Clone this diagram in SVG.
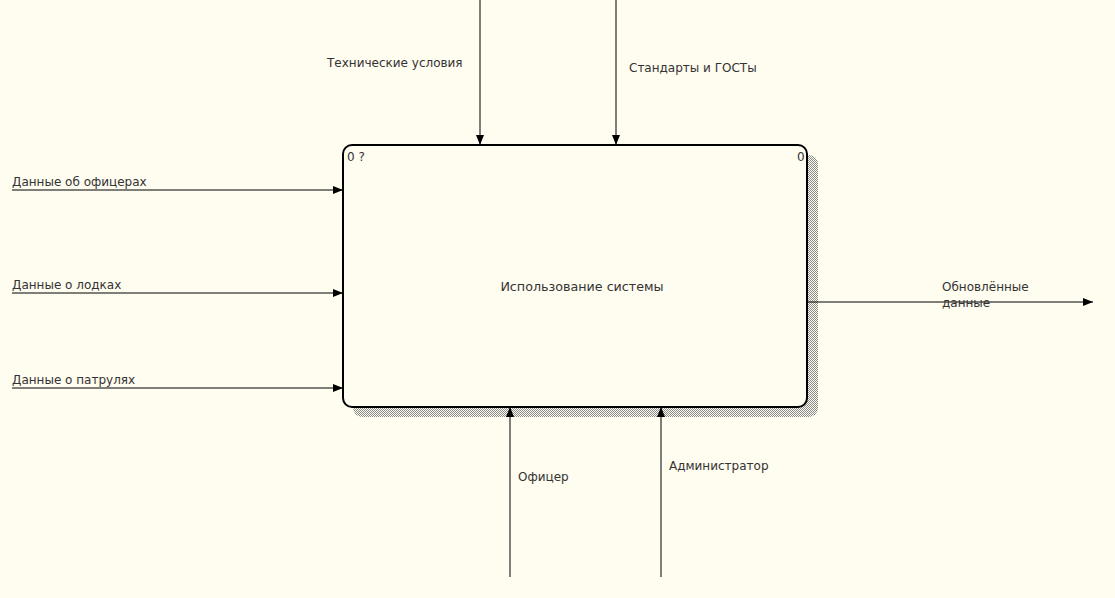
<svg xmlns="http://www.w3.org/2000/svg" width="1115" height="598" viewBox="0 0 1115 598">
<defs>
<style>
text{font-family:"DejaVu Sans","Liberation Sans",sans-serif;font-size:12px;fill:#333}
.c{stroke:#000;stroke-width:1;fill:none}
</style>
<pattern id="chk" width="2" height="2" patternUnits="userSpaceOnUse">
<rect width="1" height="1" fill="#8a8a8a"/><rect x="1" y="1" width="1" height="1" fill="#8a8a8a"/>
</pattern>
<marker id="ah" viewBox="0 0 10 8" refX="10" refY="4" markerWidth="10" markerHeight="8" markerUnits="userSpaceOnUse" orient="auto">
<path d="M0,0 L10,4 L0,8 Z" fill="#000"/>
</marker>
</defs>
<rect width="1115" height="598" fill="#FFFCF0"/>
<g id="node-main">
<rect x="353" y="155" width="465" height="262" rx="9" fill="url(#chk)"/>
<rect x="343" y="145" width="464" height="262" rx="9" fill="#FFFCF0" stroke="#000" stroke-width="2"/>
<text x="347" y="161">0 ?</text>
<text x="797" y="161">0</text>
<text x="582" y="291" text-anchor="middle" style="font-size:12.7px">Использование системы</text>
</g>
<g id="connectors">
<line class="c" x1="480" y1="0" x2="480" y2="145" marker-end="url(#ah)"/>
<line class="c" x1="616" y1="0" x2="616" y2="145" marker-end="url(#ah)"/>
<line class="c" x1="12" y1="190" x2="343" y2="190" marker-end="url(#ah)"/>
<line class="c" x1="12" y1="293" x2="343" y2="293" marker-end="url(#ah)"/>
<line class="c" x1="12" y1="388" x2="343" y2="388" marker-end="url(#ah)"/>
<line class="c" x1="510" y1="577" x2="510" y2="407" marker-end="url(#ah)"/>
<line class="c" x1="661" y1="577" x2="661" y2="407" marker-end="url(#ah)"/>
<line class="c" x1="807" y1="302" x2="1093" y2="302" marker-end="url(#ah)"/>
</g>
<g id="labels">
<text x="327" y="67">Технические условия</text>
<text x="629" y="72">Стандарты и ГОСТы</text>
<text x="12" y="186">Данные об офицерах</text>
<text x="12" y="289">Данные о лодках</text>
<text x="12" y="384">Данные о патрулях</text>
<text x="518" y="481">Офицер</text>
<text x="669" y="470">Администратор</text>
<text x="942" y="291">Обновлённые</text>
<text x="942" y="307">данные</text>
</g>
</svg>
